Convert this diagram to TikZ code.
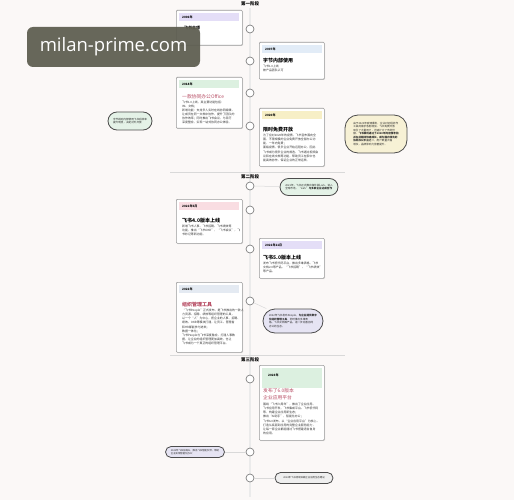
\documentclass[tikz,border=0pt]{standalone}
\usepackage{fontspec}
\setmainfont{Noto Sans CJK SC}
\newfontfamily\wmfont{Open Sans}
\usetikzlibrary{shapes.misc,shadows}
\definecolor{bgc}{HTML}{FBF8F7}
\definecolor{cardborder}{HTML}{9A9A9A}
\definecolor{hlav}{HTML}{E4DEF7}
\definecolor{hblue}{HTML}{E2ECF7}
\definecolor{hgreen}{HTML}{DCF0E0}
\definecolor{hyellow}{HTML}{F7EFC6}
\definecolor{hpink}{HTML}{F9DDE2}
\definecolor{hgray}{HTML}{E4EAF2}
\definecolor{titred}{HTML}{B5475F}
\definecolor{bgreen}{HTML}{E4F2E7}
\definecolor{byellow}{HTML}{F7F1D5}
\definecolor{blav}{HTML}{E6E4F3}
\definecolor{bgray}{HTML}{EFEFEF}
\definecolor{wmc}{HTML}{5C5C4F}
\newcommand\myfs[2]{\fontsize{#1}{#2}\selectfont}
\begin{document}
\begin{tikzpicture}[x=1pt,y=-1pt,
  card/.style={draw=cardborder, line width=0.6pt, fill=white, rounded corners=1pt, inner sep=0pt, anchor=north west,
    drop shadow={shadow xshift=0.7pt, shadow yshift=-0.7pt, opacity=0.18}},
  hdrbar/.style={anchor=north west, inner sep=0pt, minimum width=60pt, minimum height=8pt},
  hdrtxt/.style={anchor=west, inner sep=0pt, font=\myfs{3}{3.5}\bfseries, xshift=3pt},
  ctitle/.style={anchor=west, inner sep=0pt, font=\myfs{5}{6}\bfseries, align=left},
  rtitle/.style={ctitle, text=titred},
  body/.style={anchor=north west, inner sep=0pt, font=\myfs{2.9}{4.1}, align=left, text=black!80},
  dot/.style={circle, draw=black!50, fill=white, line width=0.7pt, minimum size=8pt, inner sep=0pt},
  tline/.style={draw=black!8, line width=2.2pt},
  sepline/.style={draw=black!15, line width=0.8pt},
  phase/.style={font=\myfs{4.5}{5}\bfseries, inner sep=0pt},
  conn/.style={draw=black!15, line width=0.5pt},
  bubble/.style={draw=black!70, line width=0.8pt, rounded corners=#1, inner sep=0pt, font=\myfs{2.6}{3.5}, align=left, text=black!85},
]
\useasboundingbox[fill=bgc] (0,0) rectangle (514,500);

% timeline
\coordinate (ltop) at (250,8);
\coordinate (lbot) at (250,497);
\draw[tline] (ltop) -- (lbot);

% phase labels and separators
\node[phase] (p1) at (250,3.5) {第一阶段};
\coordinate (s1a) at (170,172); \coordinate (s1b) at (345,172);
\draw[sepline] (s1a) -- (s1b);
\node[phase] (p2) at (250,177) {第二阶段};
\coordinate (s2a) at (170,355); \coordinate (s2b) at (345,355);
\draw[sepline] (s2a) -- (s2b);
\node[phase] (p3) at (250,359.5) {第三阶段};

% dots
\node[dot] (c1) at (250,29) {};
\node[dot] (c2) at (250,61) {};
\node[dot] (c3) at (250,93) {};
\node[dot] (c4) at (250,126) {};
\node[dot] (c5) at (250,186) {};
\node[dot] (c6) at (250,210) {};
\node[dot] (c7) at (250,249) {};
\node[dot] (c8) at (250,301) {};
\node[dot] (c9) at (250,379) {};
\node[dot] (c10) at (250,452) {};
\node[dot] (c11) at (250,478) {};

% ---- card 1
\node[card, minimum width=66pt, minimum height=35pt] (b1) at (176,10) {};
\node[hdrbar, fill=hlav] (h1) at (179,13) {};
\node[hdrtxt] at (h1.west) {2006年};
\node[ctitle, font=\myfs{4}{5}\bfseries] (t1) at (184,28) {飞书立项};

% ---- card 2
\node[card, minimum width=65pt, minimum height=37pt] (b2) at (259,42) {};
\node[hdrbar, fill=hblue] (h2) at (262,45) {};
\node[hdrtxt] at (h2.west) {2007年};
\node[ctitle] (t2) at (263,61) {字节内部使用};
\node[body] (x2) at (263,65) {飞书1.0上线\\被产品团队认可};

% ---- card 3
\node[card, minimum width=66pt, minimum height=51pt] (b3) at (176,77) {};
\node[hdrbar, fill=hgreen] (h3) at (179,80) {};
\node[hdrtxt] at (h3.west) {2014年};
\node[rtitle, font=\myfs{4.8}{6}] (t3) at (182,96.5) {一款协同办公Office};
\node[body] (x3) at (182,100.5) {飞书1.0上线，其主要功能包括：\\IM、文档；\\新增功能：支持多人实时在线协同编辑，\\让成员在同一文档中协作，提升了团队的\\协作效率；同时推出飞书会议，与日历\\深度整合，实现一站式协同办公体验。};

% ---- card 4
\node[card, minimum width=65pt, minimum height=58pt] (b4) at (259,108) {};
\node[hdrbar, fill=hyellow] (h4) at (262,111) {};
\node[hdrtxt] at (h4.west) {2020年};
\node[ctitle] (t4) at (263,130) {限时免费开放};
\node[body] (x4) at (263,134) {为了应对2020年的疫情，飞书宣布面向全\\国，不限规模的企业免费开放全部办公功\\能，一年内免费；\\面临疫情，很多企业开始远程办公，因此\\飞书成为很多企业的首选。飞书通过视频会\\议和在线文档等功能，帮助员工在家中也\\能高效协作，保证企业的正常运转。};

% ---- card 5
\node[card, minimum width=66pt, minimum height=44pt] (b5) at (176,199) {};
\node[hdrbar, fill=hpink] (h5) at (179,202) {};
\node[hdrtxt] at (h5.west) {2021年5月};
\node[ctitle] (t5) at (182,221) {飞书4.0版本上线};
\node[body] (x5) at (182,225) {新增飞书人事、飞书招聘、飞书绩效等\\功能，推出“飞书OKR”，“飞书会议”，飞\\书妙记等新功能。};

% ---- card 6
\node[card, minimum width=65pt, minimum height=40pt] (b6) at (259,238) {};
\node[hdrbar, fill=hlav] (h6) at (262,241) {};
\node[hdrtxt] at (h6.west) {2021年11月};
\node[ctitle] (t6) at (263,258) {飞书5.0版本上线};
\node[body] (x6) at (263,262) {发布飞书低代码平台，推出多维表格、飞书\\文档2.0等产品，“飞书招聘”、“飞书绩效”\\等产品。};

% ---- card 7
\node[card, minimum width=66pt, minimum height=70pt] (b7) at (176,282) {};
\node[hdrbar, fill=hgray] (h7) at (179,285) {};
\node[hdrtxt] at (h7.west) {2022年};
\node[rtitle] (t7) at (182,305) {组织管理工具};
\node[body] (x7) at (182,309) {“飞书People”正式发布，是飞书推出的一款人\\力资源、招聘、绩效等组织管理的工具，\\以一个“人”为中心，把企业的人事、招聘、\\绩效、OKR等模块打通，让员工、管理者\\和HR都能参与进来；\\数据一体化；\\飞书People与飞书深度融合，打通人事数\\据，让企业的组织管理更加高效，也让\\飞书成为一个真正的组织管理平台。};

% ---- card 8
\node[card, minimum width=65pt, minimum height=75pt] (b8) at (259,365) {};
\node[hdrbar, fill=hgreen, minimum height=20pt] (h8) at (262,367.5) {};
\node[hdrtxt, anchor=west, xshift=0pt] at (265,375.5) {2023年};
\node[rtitle, font=\myfs{4.8}{7}, anchor=north west] (t8) at (263,388) {发布了6.0版本\\企业应用平台};
\node[body] (x8) at (263,403) {围绕“飞书六周年”，推出了企业应用、\\飞书应用开发、飞书集成平台、飞书低代码\\等，构建企业应用新生态；\\推出“AI助手”，智能化办公；\\飞书6.0发布，以“企业应用平台”为核心，\\打造从底层到应用的完整企业服务能力，\\让每一家企业都能通过飞书搭建适合自身\\的应用。};

% ---- bubbles
\node[bubble=9pt, fill=bgreen, minimum width=44pt, minimum height=18pt] (l1) at (130,121) {字节跳动内部使用飞书后效率\\提升明显，决定对外开放};
\node[bubble=13pt, fill=byellow, minimum width=62pt, minimum height=38pt] (r1) at (376,134) {由于2020年疫情爆发，企业对远程协作\\工具的需求急剧增加，飞书免费开放\\吸引了大量用户，迅速扩大了市场份\\额。\textbf{飞书顺利通过了2020年的疫情考验}\\\textbf{并在此期间快速成长，成为国内领先的}\\\textbf{协同办公平台之一}，用户数量大幅\\增长，品牌影响力显著提升。};
\node[bubble=8.5pt, fill=bgreen, minimum width=58pt, minimum height=17pt] (r2) at (309,187) {2021年，飞书正式推出海外版Lark，进入\\全球市场，“Lark”\textbf{与多家企业达成合作}};
\node[bubble=12pt, fill=blav, minimum width=60pt, minimum height=24pt] (r3) at (293,321) {2022年飞书发布People，\textbf{为企业提供数字}\\\textbf{化组织管理工具}，同时推出多维表\\格、飞书文档等产品，进一步完善协同\\办公的生态。};
\node[bubble=5.5pt, fill=blav, minimum width=59pt, minimum height=11pt, font=\myfs{2.4}{3.2}] (l2) at (195,452) {2023年飞书加码AI，推出飞书智能伙伴，帮助\\企业实现智能化办公};
\node[bubble=5.5pt, fill=bgray, minimum width=58pt, minimum height=11pt, font=\myfs{2.4}{3.2}] (r4) at (304,478) {2024年飞书持续深耕企业应用生态建设};

% connectors
\draw[conn] (c5) -- (r2);
\draw[conn] (c8) -- (r3);
\draw[conn] (c11) -- (r4);
\draw[conn] (c10) -- (l2);

% watermark
\node[fill=wmc, fill opacity=0.93, rounded corners=6pt, minimum width=173pt, minimum height=40pt, text=white, text opacity=1, font=\wmfont\myfs{18.5}{20}, inner sep=0pt] (wm) at (113.5,47) {milan-prime.com};
\end{tikzpicture}
\end{document}
